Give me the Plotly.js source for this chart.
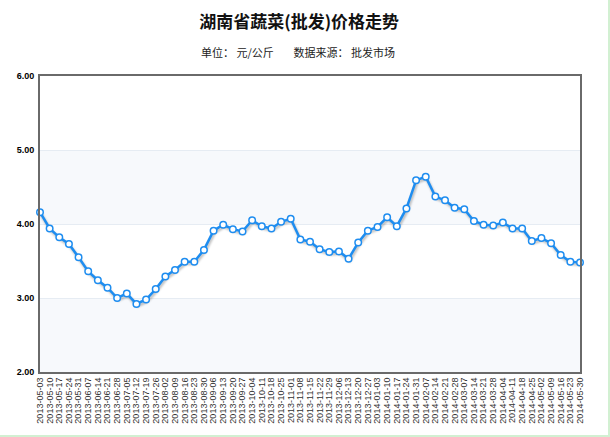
<!DOCTYPE html>
<html>
<head>
<meta charset="utf-8">
<script src="https://cdn.plot.ly/plotly-3.0.1.min.js"></script>
<style>
  html, body { margin: 0; padding: 0; background: #fff; }
  #wrap { width: 610px; height: 437px; box-sizing: border-box; border-right: 2px solid #d2f0d2; border-bottom: 2px solid #d2f0d2; overflow: hidden; }
  #chart { width: 608px; height: 435px; }
  .scatterlayer .trace path.js-line { filter: drop-shadow(1px 2px 1px rgba(0,0,0,0.28)); }
</style>
</head>
<body>
<div id="wrap"><div id="chart"></div></div>
<script>
const dates = [
  "2013-05-03","2013-05-10","2013-05-17","2013-05-24","2013-05-31","2013-06-07","2013-06-14","2013-06-21","2013-06-28",
  "2013-07-05","2013-07-12","2013-07-19","2013-07-26","2013-08-02","2013-08-09","2013-08-16","2013-08-23","2013-08-30",
  "2013-09-06","2013-09-13","2013-09-20","2013-09-27","2013-10-04","2013-10-11","2013-10-18","2013-10-25","2013-11-01",
  "2013-11-08","2013-11-15","2013-11-22","2013-11-29","2013-12-06","2013-12-13","2013-12-20","2013-12-27","2014-01-03",
  "2014-01-10","2014-01-17","2014-01-24","2014-01-31","2014-02-07","2014-02-14","2014-02-21","2014-02-28","2014-03-07",
  "2014-03-14","2014-03-21","2014-03-28","2014-04-04","2014-04-11","2014-04-18","2014-04-25","2014-05-02","2014-05-09",
  "2014-05-16","2014-05-23","2014-05-30"
];
const prices = [
  4.16,3.94,3.82,3.73,3.55,3.36,3.24,3.14,3.00,
  3.06,2.92,2.98,3.12,3.29,3.38,3.49,3.49,3.65,
  3.91,3.99,3.93,3.90,4.05,3.97,3.94,4.03,4.07,
  3.79,3.76,3.66,3.62,3.63,3.53,3.75,3.91,3.96,
  4.09,3.97,4.21,4.59,4.64,4.37,4.32,4.22,4.20,
  4.04,3.99,3.98,4.02,3.94,3.94,3.77,3.81,3.74,
  3.58,3.49,3.48
];
const yTicks = [2, 3, 4, 5, 6];
const bands = [[2, 3], [4, 5]];

const blue = '#1e8df0';
const trace = {
  x: dates, y: prices, type: 'scatter', mode: 'lines+markers',
  line: { color: blue, width: 2.5 },
  marker: { size: 6.5, color: '#ffffff', line: { color: blue, width: 1.5 } },
  cliponaxis: false, hoverinfo: 'x+y'
};

const shapes = bands.map(b => ({
  type: 'rect', xref: 'paper', yref: 'y', x0: 0, x1: 1, y0: b[0], y1: b[1],
  fillcolor: '#f7f9fc', line: { width: 0 }, layer: 'below'
}));

const layout = {
  width: 608, height: 435,
  margin: { l: 40, r: 28, t: 76, b: 63 },
  paper_bgcolor: '#ffffff', plot_bgcolor: '#ffffff',
  showlegend: false,
  title: {
    text: '<b>湖南省蔬菜(批发)价格走势</b>',
    font: { family: '"Noto Sans CJK SC", sans-serif', size: 17, color: '#111' },
    x: 0.492, xanchor: 'center', y: 0.95, yanchor: 'middle', yref: 'container'
  },
  annotations: [{
    text: '单位：&nbsp;元/公斤&nbsp;&nbsp;&nbsp;&nbsp;&nbsp;&nbsp;&nbsp;&nbsp;数据来源：&nbsp;批发市场',
    xref: 'paper', yref: 'paper', x: 0.478, y: 1, yshift: 24, xanchor: 'center', yanchor: 'middle',
    showarrow: false, font: { family: '"Noto Sans CJK SC", sans-serif', size: 11, color: '#222' }
  }],
  shapes: shapes,
  xaxis: {
    type: 'category', range: [0, dates.length - 1],
    tickmode: 'linear', dtick: 1, tickangle: -90,
    tickfont: { family: 'Liberation Sans, Arial, sans-serif', size: 9, color: '#333' },
    showgrid: false, zeroline: false,
    showline: true, mirror: true, linecolor: '#6a6a6a', linewidth: 2,
    ticks: '', fixedrange: true
  },
  yaxis: {
    range: [2, 6], tickmode: 'array', tickvals: yTicks, ticktext: yTicks.map(v => v.toFixed(2)),
    tickfont: { family: 'Liberation Sans, Arial, sans-serif', size: 9, color: '#000', weight: 'bold' },
    showgrid: true, gridcolor: '#e6ecf3', gridwidth: 1, zeroline: false,
    showline: true, mirror: true, linecolor: '#6a6a6a', linewidth: 2,
    ticks: '', ticklabelstandoff: 2, fixedrange: true
  }
};

Plotly.newPlot('chart', [trace], layout, { displayModeBar: false, staticPlot: true });
</script>
</body>
</html>
